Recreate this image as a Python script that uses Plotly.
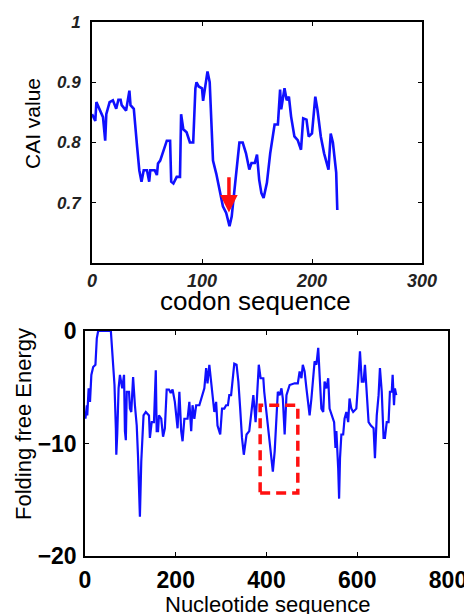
import plotly.graph_objects as go

# ---- Top panel: CAI along codon sequence ----
codon_pos = [0, 3, 4, 7, 10, 12, 13, 16, 19, 22,
             24, 26, 27, 31, 34, 35, 38, 41, 43, 45,
             47, 50, 52, 53, 57, 59, 60, 62, 64, 66,
             68, 71, 72, 74, 77, 80, 81, 83, 86, 89,
             92, 94, 95, 97, 100, 101, 103, 105, 107, 109,
             110, 113, 116, 119, 122, 125, 127, 130, 132, 134,
             137, 140, 143, 145, 148, 150, 152, 154, 156, 159,
             162, 164, 166, 169, 171, 172, 175, 177, 179, 181,
             184, 187, 190, 192, 195, 197, 200, 203, 205, 208,
             211, 215, 217, 219, 222, 223]
cai_value = [0.847, 0.836, 0.867, 0.853, 0.842, 0.803, 0.847, 0.867, 0.870, 0.856,
             0.871, 0.871, 0.862, 0.853, 0.886, 0.862, 0.856, 0.793, 0.754, 0.735,
             0.754, 0.754, 0.735, 0.754, 0.754, 0.746, 0.765, 0.770, 0.781, 0.793,
             0.803, 0.803, 0.735, 0.732, 0.743, 0.743, 0.847, 0.822, 0.817, 0.800,
             0.800, 0.890, 0.900, 0.893, 0.890, 0.869, 0.897, 0.918, 0.900, 0.825,
             0.770, 0.748, 0.720, 0.694, 0.683, 0.661, 0.677, 0.727, 0.770, 0.800,
             0.800, 0.782, 0.755, 0.766, 0.766, 0.780, 0.738, 0.716, 0.708, 0.733,
             0.782, 0.810, 0.830, 0.830, 0.888, 0.855, 0.890, 0.870, 0.876, 0.843,
             0.810, 0.804, 0.788, 0.840, 0.838, 0.810, 0.815, 0.876, 0.854, 0.810,
             0.782, 0.755, 0.815, 0.800, 0.750, 0.688]

# ---- Bottom panel: folding free energy along nucleotide sequence ----
nt_pos = [1, 4, 5, 8, 11, 14, 18, 23, 26, 29,
          57, 59, 62, 65, 68, 69, 71, 74, 77, 82,
          86, 88, 90, 92, 97, 99, 102, 106, 110, 114,
          117, 119, 121, 124, 126, 129, 134, 141, 143, 147,
          152, 156, 158, 161, 163, 168, 172, 176, 180, 185,
          189, 193, 198, 204, 208, 212, 215, 219, 226, 230,
          234, 237, 241, 245, 252, 258, 263, 267, 270, 274,
          278, 281, 285, 289, 292, 298, 302, 307, 311, 315,
          318, 322, 326, 329, 334, 338, 342, 346, 350, 353,
          356, 362, 368, 371, 376, 379, 383, 387, 393, 395,
          399, 403, 407, 411, 414, 418, 422, 425, 429, 433,
          436, 440, 444, 451, 462, 469, 473, 477, 480, 484,
          488, 492, 495, 499, 503, 506, 510, 514, 517, 521,
          525, 528, 532, 536, 539, 544, 549, 552, 554, 558,
          560, 562, 565, 569, 572, 576, 580, 583, 587, 591,
          598, 602, 606, 610, 614, 617, 621, 625, 630, 636,
          639, 643, 647, 650, 654, 658, 661, 665, 669, 672,
          676, 678, 681, 683, 686]
energy = [-7.8, -6.6, -7.5, -5.1, -6.3, -3.9, -3.2, -3.0, -0.65, 0.0,
          0.0, -1.5, -3.0, -4.8, -8.65, -11.0, -9.2, -5.1, -3.9, -5.1,
          -3.9, -8.9, -9.7, -5.4, -5.4, -6.9, -7.2, -4.1, -6.6, -8.4,
          -11.3, -13.4, -16.5, -11.6, -9.5, -7.5, -7.2, -7.5, -9.5, -8.1,
          -8.1, -3.5, -8.9, -8.9, -7.5, -7.8, -9.4, -8.65, -5.2, -5.2,
          -5.5, -5.2, -6.3, -8.65, -5.4, -8.9, -9.8, -7.8, -7.8, -6.3,
          -8.9, -6.6, -7.8, -6.6, -6.6, -5.7, -5.1, -3.3, -4.65, -3.0,
          -4.5, -5.4, -7.2, -6.3, -8.4, -9.2, -6.9, -6.9, -6.6, -6.6,
          -5.7, -5.7, -4.2, -2.9, -3.0, -4.5, -6.9, -9.5, -11.0, -10.1,
          -9.2, -8.9, -6.9, -5.7, -8.1, -6.0, -3.0, -4.2, -4.2, -5.4,
          -6.9, -8.4, -9.5, -11.3, -12.5, -10.7, -7.8, -5.4, -5.7, -5.1,
          -6.0, -9.2, -5.7, -4.8, -4.65, -4.65, -3.6, -4.2, -3.0, -3.6,
          -5.1, -6.6, -7.5, -6.0, -4.2, -2.7, -3.0, -1.5, -3.9, -6.9,
          -7.2, -4.5, -5.1, -4.2, -6.9, -7.5, -8.1, -10.4, -8.9, -12.2,
          -14.9, -11.3, -9.2, -9.2, -7.8, -7.2, -8.1, -6.0, -6.9, -7.2,
          -6.9, -4.5, -1.8, -4.5, -4.5, -3.0, -5.4, -8.1, -8.4, -8.65,
          -11.3, -7.5, -5.7, -3.3, -5.4, -9.5, -9.5, -8.1, -8.1, -5.4,
          -5.4, -3.9, -6.6, -5.1, -5.7]

assert len(codon_pos) == len(cai_value)
assert len(nt_pos) == len(energy)

# annotation marks (data coordinates)
arrow_codon = 124.5
arrow_tail = 0.745
arrow_tip = 0.684
box_nt = [386, 469]
box_energy = [-14.4, -6.6]

# the page body has an 8px margin; size the figure to fill the rest
OFF = 8
W, H = 472 - OFF, 614 - OFF
def px(x):
    return (x - OFF) / W
def py(y):
    return 1 - (y - OFF) / H

fig = go.Figure()
fig.add_trace(go.Scatter(x=codon_pos, y=cai_value, mode="lines",
                         line=dict(color="#1010ff", width=2.6),
                         xaxis="x", yaxis="y", showlegend=False))
fig.add_trace(go.Scatter(x=nt_pos, y=energy, mode="lines",
                         line=dict(color="#1010ff", width=2.2),
                         xaxis="x2", yaxis="y2", showlegend=False))

top_tick = dict(family="Liberation Sans, Arial, sans-serif", size=17,
                color="#222222", weight="bold", style="italic")
top_xtick = dict(top_tick, size=18)
bot_tick = dict(family="Liberation Sans, Arial, sans-serif", size=23,
                color="black", weight="bold")

common = dict(showline=True, linecolor="black", mirror="ticks", ticks="inside",
              ticklen=4, tickcolor="black", showgrid=False, zeroline=False,
              fixedrange=True, automargin=False)

fig.update_layout(
    width=W, height=H,
    margin=dict(l=0, r=0, t=0, b=0, autoexpand=False),
    paper_bgcolor="white", plot_bgcolor="white",
    xaxis=dict(common, domain=[px(92), px(422)], range=[0, 300],
               tickvals=[0, 100, 200, 300], tickfont=top_xtick, linewidth=2,
               anchor="y", ticklabelstandoff=0),
    yaxis=dict(common, domain=[py(263), py(22)], range=[0.6, 1.0],
               tickvals=[0.7, 0.8, 0.9, 1.0], ticktext=["0.7", "0.8", "0.9", "1"],
               tickfont=top_tick, linewidth=2, anchor="x", ticklabelstandoff=6),
    xaxis2=dict(common, domain=[px(85), px(448)], range=[0, 800],
                tickvals=[0, 200, 400, 600, 800], tickfont=bot_tick, linewidth=1.5,
                anchor="y2", ticklabelstandoff=3),
    yaxis2=dict(common, domain=[py(556), py(331)], range=[-20, 0],
                tickvals=[-20, -10, 0], tickfont=bot_tick, linewidth=1.5,
                anchor="x2", ticklabelstandoff=2),
)

title_font = dict(family="Liberation Sans, Arial, sans-serif", color="black")
fig.add_annotation(text="codon sequence", xref="paper", yref="paper",
                   x=px(255), y=py(301), xanchor="center", yanchor="middle",
                   showarrow=False, font=dict(title_font, size=26))
fig.add_annotation(text="CAI value", xref="paper", yref="paper",
                   x=px(33), y=py(124), xanchor="center", yanchor="middle",
                   textangle=-90, showarrow=False, font=dict(title_font, size=21))
fig.add_annotation(text="Nucleotide sequence", xref="paper", yref="paper",
                   x=px(267), y=py(604), xanchor="center", yanchor="middle",
                   showarrow=False, font=dict(title_font, size=22))
fig.add_annotation(text="Folding free Energy", xref="paper", yref="paper",
                   x=px(23), y=py(424), xanchor="center", yanchor="middle",
                   textangle=-90, showarrow=False, font=dict(title_font, size=22))

# red arrow in the top panel
fig.add_annotation(x=arrow_codon, y=arrow_tip, ax=arrow_codon, ay=arrow_tail,
                   xref="x", yref="y", axref="x", ayref="y", text="",
                   showarrow=True, arrowhead=2, arrowsize=1, arrowwidth=3.5,
                   arrowcolor="#ff1010")

# red dashed box in the bottom panel
fig.add_shape(type="rect", xref="x2", yref="y2",
              x0=box_nt[0], x1=box_nt[1], y0=box_energy[0], y1=box_energy[1],
              line=dict(color="#ff1010", width=3.5, dash="10px,6px"))

fig.write_html("out.html")
